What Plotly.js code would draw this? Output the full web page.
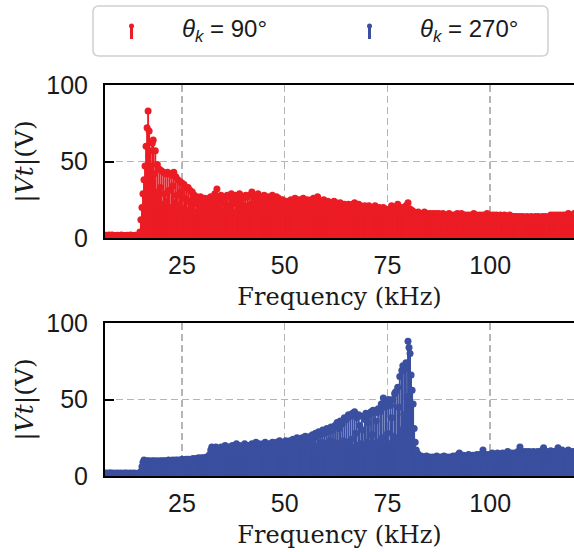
<!DOCTYPE html>
<html><head><meta charset="utf-8">
<script src="https://cdn.plot.ly/plotly-3.0.1.min.js"></script>
<style>html,body{margin:0;padding:0;background:#fff}#chart{width:574px;height:552px}</style>
</head><body><div id="chart"></div>
<script>
// FFT bin grid (kHz)
const freqStartKHz = 6.25;
const freqStepKHz = 0.25;

// |Vt| (V) for theta_k = 90 deg, one value per bin
const magTheta90 = [
 1.4,1.8,1.2,1.6,2.0,1.5,1.3,1.9,1.6,1.4,1.7,1.2,1.8,1.5,1.6,1.3,1.9,1.4,1.7,1.5,
 1.6,1.3,1.8,1.5,1.4,1.9,1.6,1.2,1.7,1.5,1.8,1.4,1.6,2.0,4,12,20,29,38,47,
 60,72,83,70,57,47,62,64,42,57,30,48,26,45,33,44,22,43,29,42,
 24,43,31,42,20,41,34,43,23,40,28,38,21,37,30,36,19,35,26,33,
 18,33,24,31,20,30,25,28,17,27,22,26,19,27,16,25,21,26,18,24,
 20,26,17,27,23,25,18,29,21,32,19,26,22,28,17,27,24,25,19,28,
 21,27,18,29,24,26,17,28,22,25,19,29,23,27,18,26,21,28,20,27,
 19,28,22,30,18,27,23,26,20,29,17,27,22,26,19,28,21,25,18,27,
 20,26,22,28,19,25,21,27,18,26,20,24,19,25,17,23,21,24,18,23,
 22,25,19,24,21,26,18,23,20,25,22,24,19,26,21,23,18,25,20,24,
 21,25,19,26,22,24,20,27,19,24,21,23,18,25,20,22,19,24,21,23,
 19,22,20,24,18,23,21,22,17,23,20,21,18,22,19,21,17,22,20,21,
 18,22,19,23,17,21,20,22,18,21,17,20,19,21,18,20,17,21,19,20,
 17,20,18,21,16,19,18,20,17,19,16,20,18,19,17,18,16,19,17,21,
 17,19,16,20,18,22,17,19,16,20,18,19,17,21,18,23,16,19,17,18,
 15,17,14,16,15,17,14,16,15,16,14,17,15,16,14,15,16,15,14,16,
 15,14,16,15,14,16,13,15,14,16,15,14,13,15,14,16,15,14,13,15,
 14,15,13,16,14,15,14,16,13,15,14,15,13,14,15,14,13,15,14,16,
 14,13,15,14,13,15,14,13,15,14,13,14,16,14,13,15,14,13,15,14,
 13,15,14,13,14,15,13,14,13,15,14,13,14,13,15,14,13,14,13,14,
 13,14,13,12,14,13,12,14,13,12,13,14,12,13,12,14,13,12,13,14,
 13,12,14,13,12,13,14,12,13,14,13,12,13,14,15,13,14,15,13,14,
 15,13,14,15,13,14,15,14,13,15,14,16,14,15,14,13,15,16
];

// |Vt| (V) for theta_k = 270 deg, one value per bin
const magTheta270 = [
 1.6,2.0,1.4,1.8,1.5,2.1,1.7,1.3,1.9,1.6,1.8,1.4,2.0,1.5,1.7,1.9,1.4,1.8,1.6,2.0,
 1.5,1.9,1.6,1.8,1.4,2.0,1.7,1.5,1.9,1.6,1.8,1.5,1.7,2.0,1.6,3,6,9,10.5,10,
 9.5,10,9,10,9.5,9,10,9.5,10,9,9.5,10,9.5,9,10,9.5,10,9.5,10,9.5,
 10,9.5,10.5,10,9.5,10,10.5,10,9.5,10.5,10,10.5,10,9.5,10.5,11,10,10.5,10,11,
 10.5,11,10,11,10.5,11,11.5,10.5,11,11.5,11,12,11,11.5,12,11,12,11.5,12,12.5,
 12,13,14,17,19,16,18,15,19,17,14,18,16,19,15,18,17,20,16,19,
 17,19,15,18,20,16,19,17,21,16,18,20,17,19,15,18,21,17,19,18,
 20,17,19,21,16,20,18,22,17,19,21,18,20,16,21,19,22,18,20,19,
 21,18,20,22,19,21,17,22,20,19,23,18,21,20,22,19,23,21,20,22,
 23,19,22,24,20,23,21,25,19,24,22,20,25,21,24,26,20,23,25,22,
 26,19,27,21,25,28,18,26,29,20,27,22,30,19,28,21,31,20,29,23,
 32,19,30,22,33,18,35,21,31,36,20,34,23,38,19,37,22,40,20,39,
 24,41,19,42,28,38,20,40,33,21,39,30,19,37,41,22,35,40,21,42,
 27,43,20,41,36,22,44,21,42,47,25,51,22,45,49,28,50,21,46,38,
 50,26,54,55,24,58,45,65,30,69,72,40,70,74,52,88,84,80,66,56,
 47,31,22,17,15,14,13,12.5,13,12,11.5,12.5,12,13,11.5,12,12.5,11.5,12,12.5,
 12,11.5,12.5,13,12,11.5,12,12.5,11.5,12,13,12,11.5,12.5,12,11.5,12.5,12,12.5,13,
 12,12.5,13,12,14,15,12.5,13,12,13.5,12.5,13,12,13.5,14,12.5,13,12,13.5,13,
 12.5,13,14,13,12.5,14,13.5,13,17,13.5,14,13,12.5,14,13.5,13,14,15,13.5,14,
 13,14,15,13.5,14,13,14.5,15,14,13.5,14,15,16,14,13.5,14,15,14,13.5,15,
 14,15,16,15,19,14.5,15,16,14,15,16,15,14.5,16,15,14,15.5,16,15,14.5,
 15,16,14.5,15,16,15.5,17,18.5,15,16,15,14.5,16,15,16.5,15,14.5,16,15,15.5,
 16,18.5,15,16,15.5,17,15,16,14.5,16,15,17,15.5,16,15,14.5,16,15
];

const xTickVals = [25, 50, 75, 100];
const xTickText = ['25', '50', '75', '100'];
const yTickVals = [0, 50, 100];
const yTickText = ['0', '50', '100'];
const seriesLabels = ['<i>θ</i><sub><i>k</i></sub> = 90°', '<i>θ</i><sub><i>k</i></sub> = 270°'];
const seriesColors = ['#ec1c24', '#3a4f9f'];

const W = 574, H = 552, ML = 105, MR = 0;
const PX = px => (px - ML) / (W - ML - MR);
const PY = py => 1 - py / H;

const SANS = '"Liberation Sans", Arial, sans-serif';
const SERIF = '"DejaVu Serif", "Liberation Serif", "Times New Roman", serif';

function freqs(vals){ return vals.map((_, i) => freqStartKHz + i * freqStepKHz); }
function stemTraces(vals, color, xa, ya){
  const f = freqs(vals);
  const sx = [], sy = [];
  vals.forEach((v, i) => { sx.push(f[i], f[i], null); sy.push(0, v, null); });
  return [
    {x: sx, y: sy, xaxis: xa, yaxis: ya, mode: 'lines', line: {color: color, width: 1.9}, hoverinfo: 'skip', showlegend: false},
    {x: f, y: vals, xaxis: xa, yaxis: ya, mode: 'markers', marker: {color: color, size: 7, line: {width: 0}}, showlegend: false}
  ];
}

const data = [].concat(
  stemTraces(magTheta90, seriesColors[0], 'x', 'y'),
  stemTraces(magTheta270, seriesColors[1], 'x2', 'y2')
);

const gridColor = '#b5b5b5';
function axisX(anchor){
  return {
    anchor: anchor, domain: [0, 1], range: [6.26, 120.4],
    tickmode: 'array', tickvals: xTickVals, ticktext: xTickText, ticks: '',
    showline: true, linecolor: '#000', linewidth: 2, mirror: true,
    showgrid: true, gridcolor: gridColor, gridwidth: 1.5, griddash: '7px,4px', zeroline: false,
    tickfont: {family: SANS, size: 25, color: '#1a1a1a'},
    ticklabelstandoff: 4,
    title: {text: 'Frequency (kHz)', font: {family: SERIF, size: 24, color: '#1a1a1a'}, standoff: 10}
  };
}
function axisY(domain, anchor){
  return {
    anchor: anchor, domain: domain, range: [0, 100],
    tickmode: 'array', tickvals: yTickVals, ticktext: yTickText,
    ticks: 'inside', ticklen: 9, tickwidth: 2, tickcolor: '#000',
    showline: true, linecolor: '#000', linewidth: 2, mirror: false,
    showgrid: true, gridcolor: gridColor, gridwidth: 1.5, griddash: '7px,4px', zeroline: false,
    tickfont: {family: SANS, size: 25, color: '#1a1a1a'},
    ticklabelstandoff: 10,
    title: {text: '|<i>Vt</i>|(V)', font: {family: SERIF, size: 25, color: '#1a1a1a'}, standoff: 6}
  };
}

// legend box (rounded)
const bx0 = 93, bx1 = 548, by0 = 6, by1 = 56, r = 6;
const boxPath = [
  'M', PX(bx0 + r), PY(by0), 'L', PX(bx1 - r), PY(by0),
  'Q', PX(bx1), PY(by0), PX(bx1), PY(by0 + r),
  'L', PX(bx1), PY(by1 - r),
  'Q', PX(bx1), PY(by1), PX(bx1 - r), PY(by1),
  'L', PX(bx0 + r), PY(by1),
  'Q', PX(bx0), PY(by1), PX(bx0), PY(by1 - r),
  'L', PX(bx0), PY(by0 + r),
  'Q', PX(bx0), PY(by0), PX(bx0 + r), PY(by0), 'Z'
].join(' ');

const iconX = [131.5, 369.5];
const textX = [180, 418];
const shapes = [{type: 'path', xref: 'paper', yref: 'paper', path: boxPath, line: {color: '#cfcfcf', width: 1.5}, fillcolor: 'rgba(255,255,255,0.9)', layer: 'above'}];
const annotations = [];
seriesLabels.forEach((lab, k) => {
  shapes.push({type: 'line', xref: 'paper', yref: 'paper', x0: PX(iconX[k]), x1: PX(iconX[k]), y0: PY(39), y1: PY(27), line: {color: seriesColors[k], width: 3}});
  shapes.push({type: 'circle', xref: 'paper', yref: 'paper', x0: PX(iconX[k] - 2.5), x1: PX(iconX[k] + 2.5), y0: PY(28.5), y1: PY(23.5), fillcolor: seriesColors[k], line: {width: 0}});
  annotations.push({xref: 'paper', yref: 'paper', x: PX(textX[k]), y: PY(30), xanchor: 'left', yanchor: 'middle', showarrow: false, text: lab, font: {family: SANS, size: 24, color: '#1a1a1a'}});
});

const layout = {
  width: W, height: H, margin: {l: ML, r: MR, t: 0, b: 0, pad: 0},
  paper_bgcolor: '#fff', plot_bgcolor: '#fff', showlegend: false,
  font: {family: SANS, color: '#1a1a1a'},
  xaxis: axisX('y'), yaxis: axisY([PY(238), PY(85)], 'x'),
  xaxis2: axisX('y2'), yaxis2: axisY([PY(476), PY(323)], 'x2'),
  shapes: shapes, annotations: annotations
};

Plotly.newPlot('chart', data, layout, {staticPlot: true, displayModeBar: false});
</script>
</body></html>
